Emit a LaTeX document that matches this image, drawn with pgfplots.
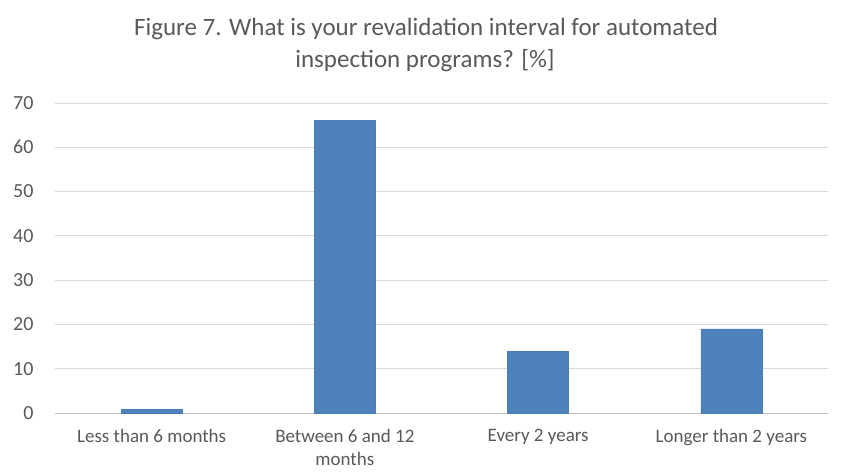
\documentclass[border=0pt]{standalone}
\usepackage{pgfplots}
\pgfplotsset{compat=1.18}
\usepackage{fontspec}
\setmainfont{Carlito}
\definecolor{bar}{HTML}{4F81BD}
\definecolor{barline}{HTML}{4A7EBB}
\definecolor{txt}{HTML}{595959}
\definecolor{gridc}{HTML}{D9D9D9}
\definecolor{axl}{HTML}{BFBFBF}
\begin{document}
\begin{tikzpicture}[x=1pt,y=1pt]
\useasboundingbox (0,0) rectangle (849,475);
\begin{axis}[
  at={(55pt,62pt)}, anchor=south west,
  scale only axis, width=773pt, height=310pt,
  xmin=-0.5, xmax=3.5, ymin=0, ymax=70,
  ytick={0,10,...,70},
  xtick={0,1,2,3},
  xticklabels={Less than 6 months,{Between 6 and 12\\months},Every 2 years,Longer than 2 years},
  x tick label style={align=center, font=\fontsize{19}{23}\selectfont, text=txt, anchor=north, yshift=-13pt},
  y tick label style={font=\fontsize{20}{22}\selectfont, text=txt, anchor=east, xshift=-18pt},
  /pgf/number format/assume math mode=true,
  major tick length=0pt,
  ymajorgrids, xmajorgrids=false,
  major grid style={draw=gridc, line width=1pt},
  axis x line*=bottom,
  axis y line*=left,
  y axis line style={draw=none},
  x axis line style={draw=axl, line width=1pt, -},
  ybar, bar width=61pt,
  clip=false,
]
\addplot[fill=bar, draw=barline, line width=0.6pt] coordinates {(0,0.8) (1,66) (2,14) (3,19)};
\end{axis}
\node[anchor=base, text=txt, font=\fontsize{25}{30}\selectfont] at (426,439) {Figure 7. What is your revalidation interval for automated};
\node[anchor=base, text=txt, font=\fontsize{25}{30}\selectfont] at (425,407) {inspection programs? [\%]};
\end{tikzpicture}
\end{document}
